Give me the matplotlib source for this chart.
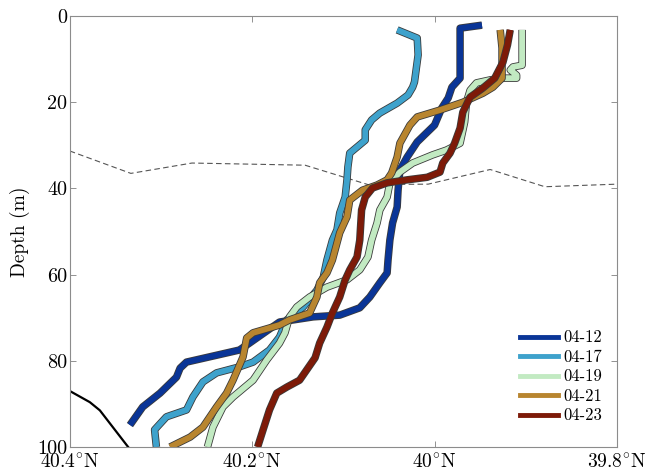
import numpy as np
import matplotlib
matplotlib.use("Agg")
import matplotlib.pyplot as plt
import matplotlib.patheffects as pe

plt.rcParams["font.family"] = ["cmr10", "DejaVu Serif"]
plt.rcParams["mathtext.fontset"] = "cm"
plt.rcParams["axes.unicode_minus"] = False
plt.rcParams["axes.formatter.use_mathtext"] = True

# perfiles (latitud, profundidad)
lat_0412 = [39.948, 39.972, 39.972, 39.981, 39.985, 39.992, 40.000, 40.019, 40.030, 40.038,
            40.040, 40.041, 40.046, 40.049, 40.051, 40.052, 40.060, 40.071, 40.082, 40.104,
            40.133, 40.170, 40.203, 40.214, 40.272, 40.279, 40.283, 40.301, 40.320, 40.334]
dep_0412 = [2.1, 2.8, 14.4, 16.5, 19.0, 21.3, 25.3, 29.2, 32.7, 35.7,
            40.4, 44.3, 48.0, 52.0, 56.6, 59.6, 61.9, 65.2, 67.7, 69.4,
            69.8, 71.0, 75.9, 77.5, 80.3, 81.7, 83.8, 87.5, 90.7, 94.9]

lat_0417 = [40.041, 40.019, 40.018, 40.022, 40.024, 40.029, 40.041, 40.060, 40.069, 40.076,
            40.076, 40.093, 40.095, 40.096, 40.098, 40.104, 40.107, 40.112, 40.118, 40.122,
            40.129, 40.144, 40.162, 40.170, 40.181, 40.199, 40.214, 40.239, 40.254, 40.265,
            40.272, 40.294, 40.307, 40.305]
dep_0417 = [3.2, 5.1, 9.0, 15.3, 16.5, 18.3, 20.2, 22.5, 24.1, 26.4,
            28.8, 31.8, 35.0, 38.0, 42.0, 45.7, 49.6, 52.0, 56.6, 60.6,
            63.6, 67.5, 70.5, 74.5, 77.5, 80.3, 81.4, 82.8, 84.9, 88.4,
            91.4, 93.0, 96.0, 100.0]

lat_0419 = [39.904, 39.904, 39.914, 39.917, 39.910, 39.910, 39.923, 39.939, 39.954, 39.961,
            39.965, 39.967, 39.972, 39.987, 40.002, 40.024, 40.038, 40.049, 40.052, 40.060,
            40.063, 40.069, 40.073, 40.082, 40.096, 40.118, 40.137, 40.151, 40.159, 40.164,
            40.170, 40.184, 40.199, 40.221, 40.232, 40.243, 40.249]
dep_0419 = [3.2, 11.4, 11.8, 12.5, 13.7, 14.4, 14.4, 14.8, 15.5, 17.2,
            20.0, 24.6, 29.5, 31.1, 32.2, 34.1, 36.2, 38.7, 42.0, 45.0,
            48.0, 52.0, 55.9, 58.9, 61.2, 62.9, 65.2, 67.5, 69.8, 73.5,
            75.9, 79.8, 84.5, 88.4, 90.7, 95.4, 100.0]

lat_0421 = [39.928, 39.926, 39.926, 39.936, 39.947, 39.969, 39.994, 40.019, 40.027, 40.038,
            40.041, 40.047, 40.052, 40.063, 40.079, 40.093, 40.096, 40.104, 40.112, 40.118,
            40.126, 40.129, 40.137, 40.159, 40.170, 40.199, 40.206, 40.210, 40.221, 40.228,
            40.239, 40.254, 40.268, 40.290]
dep_0421 = [3.2, 7.4, 14.4, 16.5, 17.9, 20.0, 21.8, 23.4, 25.3, 29.5,
            32.7, 36.4, 38.0, 39.2, 40.4, 42.7, 46.6, 50.3, 56.6, 59.6,
            61.9, 65.2, 68.9, 70.5, 71.7, 73.5, 74.7, 79.1, 84.5, 87.5,
            90.7, 95.4, 97.7, 100.0]

lat_0423 = [39.917, 39.920, 39.925, 39.934, 39.947, 39.961, 39.969, 39.972, 39.978, 39.983,
            39.991, 39.994, 40.008, 40.030, 40.052, 40.068, 40.076, 40.080, 40.082, 40.085,
            40.093, 40.098, 40.104, 40.112, 40.118, 40.126, 40.131, 40.148, 40.162, 40.173,
            40.181, 40.188, 40.194]
dep_0423 = [3.2, 6.7, 10.7, 14.4, 16.7, 18.8, 22.3, 26.0, 29.5, 31.8,
            34.1, 36.2, 37.4, 38.0, 38.7, 39.9, 42.0, 45.0, 52.0, 55.9,
            58.9, 61.2, 65.2, 68.9, 72.2, 75.9, 79.3, 84.5, 86.1, 87.5,
            91.4, 96.0, 100.0]

# capa de mezcla (línea discontinua) y fondo
lat_capa = [40.4, 40.333, 40.266, 40.142, 40.073, 40.007, 39.939, 39.879, 39.8]
dep_capa = [31.3, 36.5, 34.1, 34.6, 39.1, 39.0, 35.6, 39.6, 39.0]
lat_fondo = [40.4, 40.378, 40.367, 40.336, 40.32]
dep_fondo = [87.0, 89.6, 91.5, 100.0, 104.0]

fechas = ["04-12", "04-17", "04-19", "04-21", "04-23"]
colores = ["#0a3597", "#3ea2cc", "#c2eac2", "#b8852f", "#7d1a08"]
perfiles = [(lat_0412, dep_0412), (lat_0417, dep_0417), (lat_0419, dep_0419),
            (lat_0421, dep_0421), (lat_0423, dep_0423)]

fig = plt.figure(figsize=(6.46, 4.74), dpi=100)
ax = fig.add_axes([0.108, 0.057, 0.847, 0.909])

ax.plot(lat_capa, dep_capa, "--", color="#555555", lw=0.8, dashes=(5, 3))
ax.plot(lat_fondo, dep_fondo, color="black", lw=1.6)

for (la, de), c in zip(perfiles, colores):
    ax.plot(la, de, color=c, lw=4.2, solid_capstyle="butt", solid_joinstyle="round",
            path_effects=[pe.Stroke(linewidth=5.4, foreground="#3a3a3a"), pe.Normal()])

# leyenda sin contorno
proxies = [plt.Line2D([], [], color=c, lw=3.5) for c in colores]
ax.legend(proxies, fechas, loc="lower right", frameon=False, fontsize=12,
          handlelength=2.3, handletextpad=0.3, labelspacing=0.25,
          bbox_to_anchor=(1.0, 0.02))

ax.set_xlim(40.4, 39.8)
ax.set_ylim(100, 0)
ax.set_xticks([40.4, 40.2, 40.0, 39.8])
ax.set_xticklabels([r"40.4$^{\circ}$N", r"40.2$^{\circ}$N", r"40$^{\circ}$N", r"39.8$^{\circ}$N"],
                   fontsize=14)
ax.set_yticks([0, 20, 40, 60, 80, 100])
ax.set_yticklabels(["0", "20", "40", "60", "80", "100"], fontsize=14.5)
ax.set_ylabel("Depth (m)", fontsize=14, labelpad=5)

ax.tick_params(direction="in", top=True, right=True, length=4, width=0.6,
               color="#808080")
ax.tick_params(axis="y", pad=2)
ax.tick_params(axis="x", pad=4.5)
for s in ax.spines.values():
    s.set_color("#8c8c8c")
    s.set_linewidth(0.8)

fig.savefig("out.png", dpi=100)
